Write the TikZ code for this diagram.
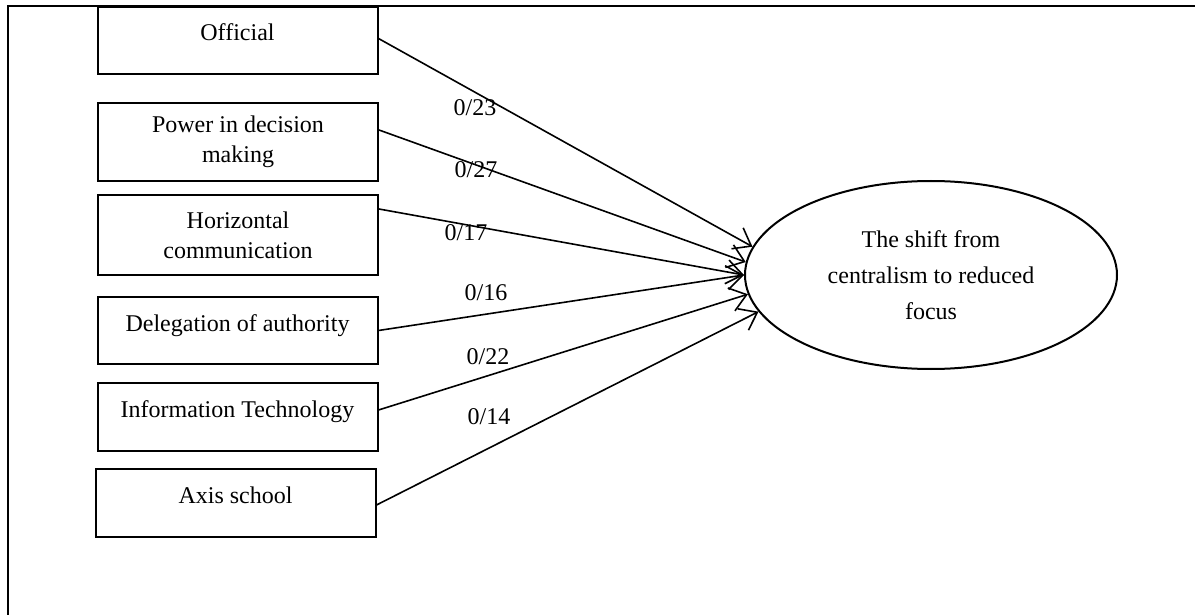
\documentclass[tikz,border=0pt]{standalone}
\usepackage{fontspec}
\setmainfont{Liberation Serif}
\usetikzlibrary{shapes.geometric,arrows.meta}

\begin{document}
\begin{tikzpicture}[x=0.5pt,y=-0.5pt,
        factor/.style={draw,line width=1pt,minimum width=140pt,align=center,font=\fontsize{12}{15}\selectfont},
        oneline/.style={text height=8pt,text depth=7.5pt},
        weight/.style={font=\fontsize{12}{14}\selectfont,inner sep=1pt}]
        \useasboundingbox (0,0) rectangle (1195,615);
        \draw [line width=1pt] (7.5,615) -- (7.5,6.5) -- (1195,6.5); % frame
        \node [factor,oneline,minimum height=33.5pt] (off) at (237.5,40.5) {Official};
        \node [factor,minimum height=39pt] (pow) at (238,142) {Power in decision\\making};
        \node [factor,minimum height=40pt] (hor) at (238,235) {Horizontal\\communication};
        \node [factor,oneline,minimum height=33.5pt] (del) at (237.5,330.5) {Delegation of authority};
        \node [factor,oneline,minimum height=34pt] (inf) at (237.5,417) {Information Technology};
        \node [factor,oneline,minimum height=34pt] (axi) at (235.5,503) {Axis school};
        \node [draw,ellipse,line width=1pt,minimum width=186pt,minimum height=94pt,align=center,
            font=\fontsize{12}{18}\selectfont] (shift) at (931,275) {The shift from\\centralism to reduced\\focus};
        \foreach \f/\s/\a/\w/\lx/\ly in {off/1pt/171/23/475/108,pow/6pt/176/27/476/170,hor/13pt/180/17/466/233,
            del/0pt/180/16/486/293,inf/3.5pt/186/22/488/357,axi/-1pt/192/14/489/417} {
            \draw [line width=.8pt,-{Straight Barb[length=8pt,width=12pt]}] ([yshift=\s]\f.east) -- (shift.\a); % path weight
            \node [weight] (w\w) at (\lx,\ly) {0/\w};
        }
    \end{tikzpicture}
\end{document}
